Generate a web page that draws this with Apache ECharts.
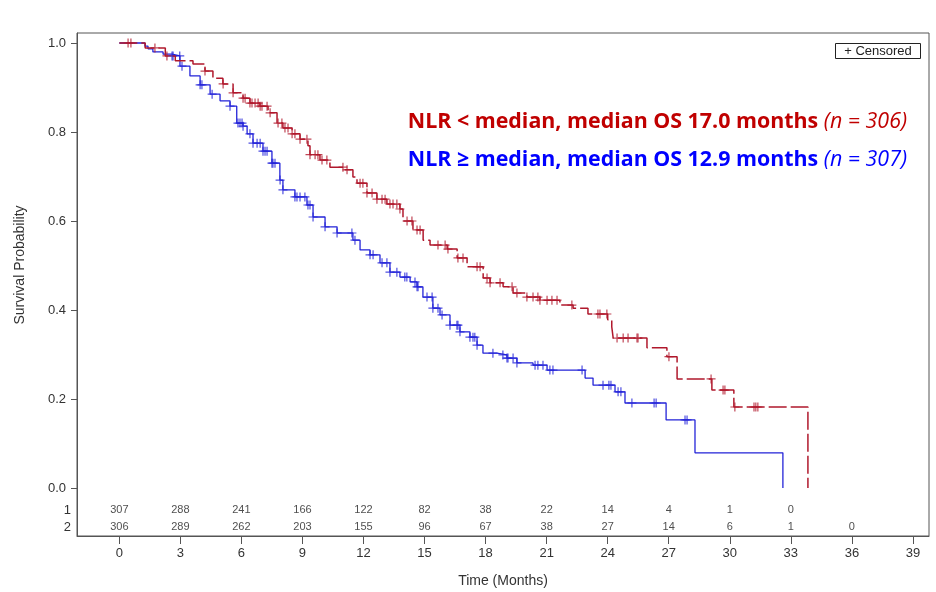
<!DOCTYPE html>
<html><head><meta charset="utf-8">
<script src="https://cdn.jsdelivr.net/npm/echarts@6/dist/echarts.min.js"></script>
<style>html,body{margin:0;padding:0;background:#fff}#c{width:936px;height:592px}</style>
</head><body><div id="c"></div>
<script>
// ---- data ----
// Kaplan-Meier steps [time (months), survival after the step]
const lowSteps = [[0,1.0],[1.27,0.989],[2.26,0.971],[2.75,0.960],[3.62,0.953],[4.21,0.937],[4.60,0.921],[5.09,0.908],[5.59,0.888],[6.08,0.876],[6.42,0.865],[6.91,0.858],[7.31,0.843],[7.75,0.820],[8.04,0.809],[8.49,0.796],[8.88,0.784],[9.27,0.769],[9.37,0.749],[9.86,0.737],[10.35,0.721],[11.09,0.715],[11.48,0.699],[11.68,0.685],[12.17,0.663],[12.66,0.649],[13.15,0.638],[13.79,0.627],[13.94,0.600],[14.43,0.580],[14.93,0.557],[15.27,0.546],[16.11,0.537],[16.60,0.517],[17.09,0.497],[17.88,0.472],[18.22,0.461],[18.86,0.452],[19.35,0.438],[20.03,0.429],[20.67,0.422],[21.65,0.411],[22.30,0.404],[23.03,0.391],[24.00,0.378],[24.20,0.362],[24.27,0.337],[25.93,0.315],[26.91,0.295],[27.41,0.245],[29.12,0.220],[30.20,0.182],[33.84,0.182],[33.84,0.0]];
const highSteps = [[0,1.0],[1.26,0.993],[1.41,0.987],[1.65,0.980],[2.15,0.975],[2.59,0.971],[2.98,0.948],[3.47,0.926],[3.97,0.906],[4.46,0.885],[4.95,0.870],[5.44,0.858],[5.77,0.820],[6.08,0.813],[6.28,0.796],[6.57,0.775],[7.06,0.757],[7.50,0.730],[7.89,0.692],[8.04,0.670],[8.63,0.654],[9.22,0.636],[9.52,0.609],[10.11,0.587],[10.70,0.573],[11.48,0.557],[11.83,0.535],[12.32,0.524],[12.81,0.506],[13.30,0.485],[13.79,0.474],[14.29,0.463],[14.63,0.452],[14.92,0.429],[15.41,0.404],[15.76,0.389],[16.25,0.366],[16.74,0.351],[17.23,0.339],[17.58,0.321],[17.87,0.303],[18.56,0.299],[19.05,0.292],[19.54,0.281],[20.33,0.276],[21.02,0.265],[22.89,0.247],[23.28,0.231],[24.36,0.216],[24.85,0.191],[26.87,0.153],[28.29,0.079],[32.61,0.079],[32.61,0.0]];
// censoring times (months)
const lowCensor = [0.43,0.57,1.75,2.34,4.21,5.10,5.59,6.08,6.18,6.42,6.52,6.67,6.82,6.92,7.01,7.26,7.41,7.80,7.99,8.14,8.29,8.49,8.63,8.88,9.22,9.37,9.62,9.76,9.96,10.20,10.99,11.19,11.83,11.97,12.17,12.42,12.66,12.91,13.06,13.30,13.45,13.64,13.79,14.14,14.38,14.63,14.78,15.66,16.01,16.15,16.64,16.89,17.58,17.73,18.07,18.22,18.71,19.30,19.54,20.03,20.33,20.57,20.67,21.02,21.26,21.51,22.24,23.52,23.62,23.96,24.46,24.76,25.00,25.44,25.49,27.01,29.08,29.67,29.76,30.25,31.19,31.28,31.38];
const highCensor = [2.59,2.64,2.97,3.08,3.97,4.06,4.56,5.44,5.83,5.93,6.03,6.08,6.42,6.57,6.77,6.92,7.06,7.16,7.26,7.50,7.55,7.65,7.90,8.04,8.63,8.73,8.88,9.12,9.27,9.37,9.52,10.11,10.70,11.43,11.58,12.32,12.47,12.91,13.15,13.30,13.64,14.03,14.13,14.53,14.63,14.68,15.12,15.37,15.41,15.66,15.86,16.25,16.59,16.64,16.74,17.23,17.38,17.47,17.58,18.36,18.85,19.05,19.10,19.35,19.54,20.43,20.57,20.82,21.16,21.31,22.74,23.77,24.06,24.16,24.51,24.65,25.19,26.28,26.38,27.80,27.90];
// numbers at risk
const riskTimes = [0,3,6,9,12,15,18,21,24,27,30,33,36];
const riskRow1 = [307,288,241,166,122,82,38,22,14,4,1,0,null];
const riskRow2 = [306,289,262,203,155,96,67,38,27,14,6,1,0];
const riskRowLabels = ['1','2'];
const xTicks = [0,3,6,9,12,15,18,21,24,27,30,33,36,39];
const yTicks = [0,0.2,0.4,0.6,0.8,1.0];
const lowLabel = 'NLR < median, median OS 17.0 months ';
const lowN = '(n = 306)';
const highLabel = 'NLR \u2265 median, median OS 12.9 months ';
const highN = '(n = 307)';

// ---- chart ----
const RED = '#b0182c', BLUE = '#2323d8';
const ROW1_Y = -0.0494, ROW2_Y = -0.0876;
function survAt(steps, t){ let s = steps[0][1]; for (const p of steps){ if (p[0] <= t) s = p[1]; else break; } return s; }
const plus = 'path://M5,0L5,10M0,5L10,5';
const chart = echarts.init(document.getElementById('c'), null, {renderer:'canvas'});
const AX = '#555';
const FONT = 'Liberation Sans';
function riskSeries(row, yv){
  return {type:'scatter', symbolSize:1, silent:true, z:5, itemStyle:{color:'transparent'},
    data: riskTimes.map((t,i)=> row[i]==null?null:[t, yv, row[i]]).filter(d=>d),
    label:{show:true, position:[0.5,0.5], align:'center', verticalAlign:'middle', formatter:p=>String(p.data[2]), fontSize:11, fontFamily:FONT, color:'#222'}};
}
const annot = (txt, n, y, col) => ({type:'text', x:907, y:y, style:{text:'{b|'+txt+'}{i|'+n+'}', align:'right', verticalAlign:'middle',
      rich:{b:{fontSize:21.4, fontWeight:'bold', fontFamily:'Open Sans', fill:col}, i:{fontSize:21.4, fontStyle:'italic', fontFamily:'Open Sans', fill:col}}}});
chart.setOption({
  animation:false,
  grid:{left:77, top:33, width:852, height:503, show:true, borderColor:AX, borderWidth:1, backgroundColor:'#fff', outerBoundsMode:'none', containLabel:false},
  xAxis:{type:'value', min:-2.08, max:39.79, name:'Time (Months)', nameLocation:'middle', nameGap:38,
    nameTextStyle:{fontSize:14, fontFamily:FONT, color:'#333'},
    axisLine:{show:true, onZero:false, lineStyle:{color:AX}}, splitLine:{show:false},
    axisTick:{show:true, customValues:xTicks, length:8, lineStyle:{color:AX}},
    axisLabel:{customValues:xTicks, fontSize:13, fontFamily:FONT, color:'#333', margin:11}},
  yAxis:{type:'value', min:-0.1079, max:1.0225,
    axisLine:{show:true, onZero:false, lineStyle:{color:AX}}, splitLine:{show:false},
    axisTick:{show:true, customValues:yTicks, length:6, lineStyle:{color:AX}},
    axisLabel:{customValues:yTicks, formatter:v=>v.toFixed(1), fontSize:13, fontFamily:FONT, color:'#333', margin:11}},
  series:[
    {type:'line', step:'end', data:highSteps, showSymbol:false, lineStyle:{color:BLUE, width:1.3}, z:3},
    {type:'line', step:'end', data:lowSteps, showSymbol:false, lineStyle:{color:RED, width:1.5, type:[18,4]}, z:4},
    {type:'scatter', symbol:plus, symbolSize:9, data:highCensor.map(t=>[t, survAt(highSteps,t)]),
      itemStyle:{color:'transparent', borderColor:BLUE, borderWidth:1.2}, z:3},
    {type:'scatter', symbol:plus, symbolSize:9, data:lowCensor.map(t=>[t, survAt(lowSteps,t)]),
      itemStyle:{color:'transparent', borderColor:RED, borderWidth:1.2}, z:4},
    riskSeries(riskRow1, ROW1_Y),
    riskSeries(riskRow2, ROW2_Y)
  ],
  graphic:[
    {type:'text', x:20, y:265, rotation:Math.PI/2, style:{text:'Survival Probability', fontSize:14, fontFamily:FONT, fill:'#333', align:'center', verticalAlign:'middle'}},
    {type:'text', x:71, y:510, style:{text:riskRowLabels[0], fontSize:13, fontFamily:FONT, fill:'#333', align:'right', verticalAlign:'middle'}},
    {type:'text', x:71, y:527, style:{text:riskRowLabels[1], fontSize:13, fontFamily:FONT, fill:'#333', align:'right', verticalAlign:'middle'}},
    {type:'rect', shape:{x:835.5, y:43.5, width:85, height:15}, style:{fill:'#fff', stroke:'#222', lineWidth:1}},
    {type:'text', x:878, y:51, style:{text:'+ Censored', fontSize:13, fontFamily:FONT, fill:'#222', align:'center', verticalAlign:'middle'}},
    annot(lowLabel, lowN, 122, '#c00000'),
    annot(highLabel, highN, 160, '#0000ff')
  ]
});
</script></body></html>
